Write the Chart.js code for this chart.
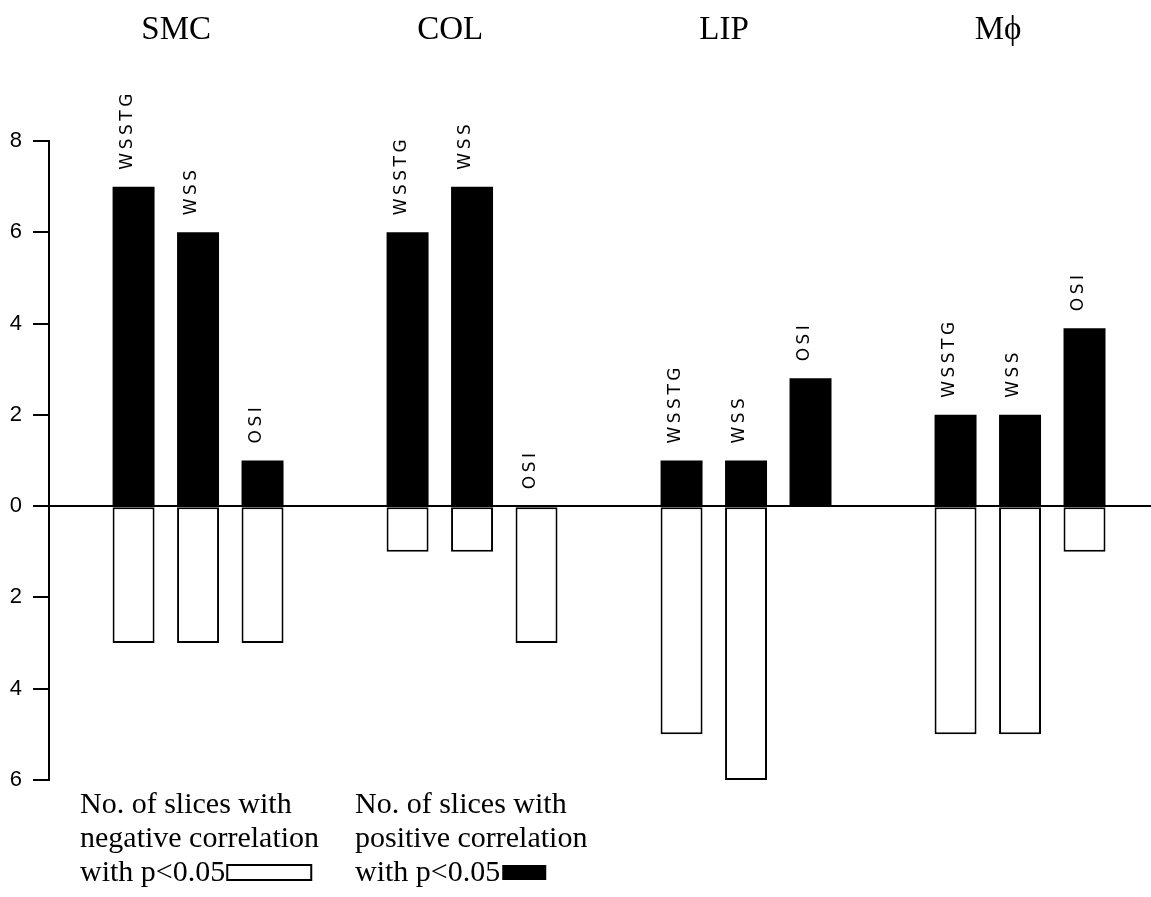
<!DOCTYPE html>
<html>
<head>
<meta charset="utf-8">
<script src="https://cdn.jsdelivr.net/npm/chart.js@4.4.1/dist/chart.umd.min.js"></script>
<style>
  html, body { margin: 0; padding: 0; background: #fff; }
  #wrap { width: 1151px; height: 897px; position: relative; }
</style>
</head>
<body>
<div id="wrap"><canvas id="myChart"></canvas></div>
<script>
// groups along the x axis
const groups = ['SMC', 'COL', 'LIP', 'M\u03d5'];
const measures = ['WSSTG', 'WSS', 'OSI'];

// No. of slices with positive correlation (p<0.05)
const posWSSTG = [7, 6, 1, 2];
const posWSS = [6, 7, 1, 2];
const posOSI = [1, 0, 2.8, 3.9];

// No. of slices with negative correlation (p<0.05), drawn below zero
const negWSSTG = [-3, -1, -5, -5];
const negWSS = [-3, -1, -6, -5];
const negOSI = [-3, -3, 0, -1];

const legendNeg = ['No. of slices with', 'negative correlation', 'with p<0.05'];
const legendPos = ['No. of slices with', 'positive correlation', 'with p<0.05'];

const toPoints = arr => arr.map((v, i) => ({ x: i, y: v }));

const posSets = [posWSSTG, posWSS, posOSI];
const negSets = [negWSSTG, negWSS, negOSI];

const datasets = [];
posSets.forEach((vals, k) => {
    datasets.push({
        label: measures[k] + ' +',
        data: toPoints(vals),
        stack: measures[k],
        backgroundColor: '#000',
        borderWidth: 0
    });
});
negSets.forEach((vals, k) => {
    datasets.push({
        label: measures[k] + ' -',
        data: toPoints(vals),
        stack: measures[k],
        backgroundColor: '#fff',
        borderColor: '#000',
        borderWidth: 2,
        borderSkipped: false
    });
});

// vertical measure names above the black bars
const barLabels = {
    id: 'barLabels',
    afterDatasetsDraw(chart) {
        const ctx = chart.ctx;
        ctx.save();
        ctx.fillStyle = '#000';
        ctx.font = '17px "DejaVu Sans"';
        ctx.letterSpacing = '3.5px';
        ctx.textAlign = 'left';
        ctx.textBaseline = 'middle';
        for (let k = 0; k < 3; k++) {
            chart.getDatasetMeta(k).data.forEach(el => {
                ctx.save();
                ctx.translate(el.x - 6, el.y - 17);
                ctx.rotate(-Math.PI / 2);
                ctx.fillText(measures[k], 0, 0);
                ctx.restore();
            });
        }
        ctx.restore();
    }
};

// the text legend at the bottom
const textLegend = {
    id: 'textLegend',
    afterDraw(chart) {
        const ctx = chart.ctx;
        ctx.save();
        ctx.fillStyle = '#000';
        ctx.font = '30px "Liberation Serif"';
        ctx.textBaseline = 'alphabetic';
        const cols = [
            { x: 80, lines: legendNeg, ds: chart.data.datasets[3], w: 84 },
            { x: 355, lines: legendPos, ds: chart.data.datasets[0], w: 44 }
        ];
        cols.forEach(c => {
            c.lines.forEach((t, j) => ctx.fillText(t, c.x, 813 + j * 34));
            const bx = c.x + ctx.measureText(c.lines[2]).width + 2;
            ctx.fillStyle = c.ds.backgroundColor;
            ctx.fillRect(bx, 865, c.w, 15);
            if (c.ds.borderWidth) {
                ctx.strokeStyle = c.ds.borderColor;
                ctx.lineWidth = 2;
                ctx.strokeRect(bx, 865, c.w, 15);
            }
            ctx.fillStyle = '#000';
        });
        ctx.restore();
    }
};

const ctx = document.getElementById('myChart').getContext('2d');
const myChart = new Chart(ctx, {
    type: 'bar',
    data: { datasets: datasets },
    options: {
        responsive: true,
        maintainAspectRatio: false,
        animation: false,
        categoryPercentage: 0.706,
        barPercentage: 0.651,
        layout: { padding: { top: 0, right: 0, bottom: 117, left: 0 } },
        plugins: {
            legend: { display: false },
            tooltip: { enabled: false }
        },
        scales: {
            x: {
                type: 'linear',
                position: 'top',
                stacked: true,
                offset: false,
                min: -0.544,
                max: 3.478,
                afterBuildTicks: s => { s.ticks = groups.map((g, i) => ({ value: i - 0.08 })); },
                afterFit: s => { s.height = 141; },
                grid: { display: false },
                border: { display: false },
                ticks: {
                    autoSkip: false,
                    maxRotation: 0,
                    padding: 83,
                    color: '#000',
                    font: { family: '"Liberation Serif"', size: 33 },
                    callback: (v, i) => groups[i]
                }
            },
            y: {
                min: -6,
                max: 8,
                stacked: true,
                afterFit: s => { s.width = 49; },
                border: { display: true, color: '#000', width: 2 },
                grid: {
                    color: c => c.tick && c.tick.value === 0 ? '#000' : 'rgba(0,0,0,0)',
                    lineWidth: 2,
                    tickColor: '#000',
                    tickLength: 16
                },
                ticks: {
                    stepSize: 2,
                    padding: 11,
                    color: '#000',
                    font: { family: '"Liberation Sans"', size: 22 },
                    callback: v => Math.abs(v)
                }
            }
        }
    },
    plugins: [barLabels, textLegend]
});
</script>
</body>
</html>
